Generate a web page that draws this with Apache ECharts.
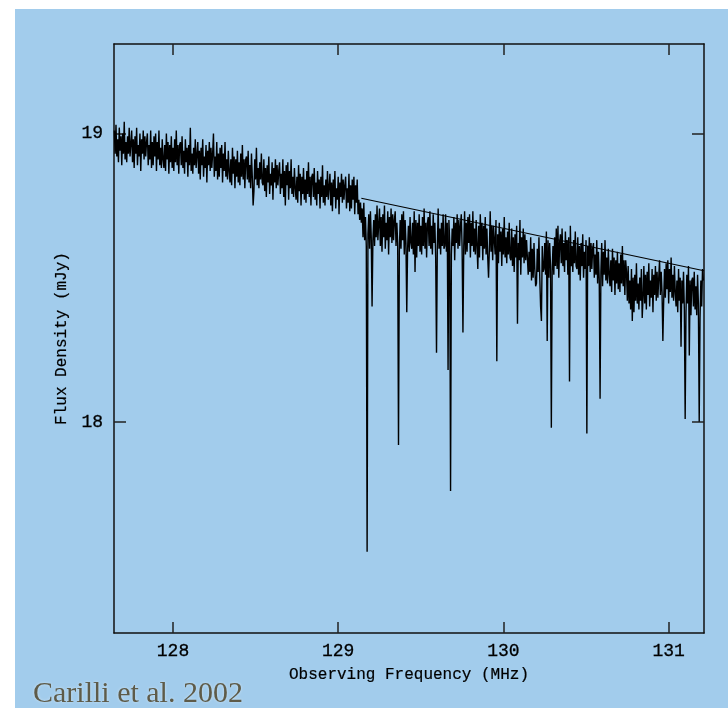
<!DOCTYPE html>
<html><head><meta charset="utf-8">
<script src="https://cdn.jsdelivr.net/npm/echarts@6/dist/echarts.min.js"></script>
<style>html,body{margin:0;padding:0;background:#fff;}#chart{width:728px;height:708px;}</style>
</head><body><div id="chart"></div>
<script>
// channel frequencies (MHz): evenly spaced spectral channels
const freqStart = 127.645;
const freqStep = 0.005;
// flux density per channel (mJy)
const flux = [
19.01,18.93,19.03,18.92,18.98,18.90,19.02,18.94,18.99,18.89,19.00,18.93,19.04,18.91,18.97,18.90,18.99,18.93,19.02,18.92,
18.92,19.01,18.90,18.98,18.88,18.99,18.93,19.02,18.89,18.96,18.92,19.00,18.87,18.98,18.93,19.01,18.91,18.99,18.92,18.97,
19.00,18.89,18.96,18.91,19.01,18.88,18.97,18.89,18.99,18.92,19.00,18.87,18.97,18.91,19.01,18.89,18.95,18.88,18.98,18.91,
18.88,18.96,18.87,19.00,18.91,18.97,18.86,18.96,18.90,18.99,18.88,18.95,18.87,18.98,18.90,19.01,18.89,18.96,18.86,18.96,
18.97,18.89,18.99,18.88,18.94,18.86,18.98,18.90,18.95,18.85,18.96,18.89,19.02,18.87,18.93,18.86,18.95,18.89,18.98,18.88,
18.88,18.97,18.86,18.94,18.84,18.95,18.89,18.98,18.85,18.92,18.88,18.96,18.83,18.94,18.89,18.97,18.87,18.95,18.88,18.93,
19.00,18.85,18.92,18.87,18.97,18.84,18.93,18.85,18.95,18.88,18.96,18.83,18.93,18.87,18.97,18.85,18.91,18.84,18.94,18.87,
18.83,18.91,18.82,18.95,18.86,18.92,18.81,18.91,18.85,18.94,18.83,18.90,18.82,18.93,18.85,18.96,18.84,18.91,18.81,18.91,
18.92,18.84,18.94,18.83,18.89,18.81,18.93,18.85,18.75,18.80,18.91,18.84,18.95,18.82,18.88,18.81,18.90,18.84,18.93,18.83,
18.82,18.91,18.80,18.88,18.78,18.89,18.83,18.92,18.79,18.86,18.82,18.90,18.77,18.88,18.83,18.91,18.81,18.89,18.82,18.87,
18.90,18.79,18.86,18.81,18.91,18.78,18.87,18.75,18.89,18.82,18.90,18.77,18.87,18.81,18.91,18.79,18.85,18.78,18.88,18.81,
18.77,18.85,18.76,18.89,18.80,18.86,18.75,18.85,18.79,18.88,18.77,18.84,18.76,18.87,18.79,18.90,18.78,18.85,18.75,18.85,
18.86,18.78,18.88,18.77,18.83,18.75,18.87,18.79,18.84,18.74,18.85,18.78,18.89,18.76,18.82,18.75,18.84,18.78,18.87,18.77,
18.77,18.86,18.75,18.83,18.73,18.84,18.78,18.87,18.74,18.81,18.77,18.85,18.72,18.83,18.78,18.86,18.76,18.84,18.77,18.82,
18.85,18.74,18.81,18.76,18.86,18.73,18.82,18.74,18.84,18.77,18.85,18.72,18.82,18.76,18.84,18.72,18.77,18.70,18.76,18.69,
18.74,18.64,18.76,18.63,18.71,18.61,17.55,18.65,18.72,18.60,18.73,18.64,18.40,18.63,18.70,18.61,18.72,18.64,18.75,18.63,
18.63,18.74,18.61,18.71,18.59,18.72,18.64,18.75,18.60,18.69,18.63,18.73,18.58,18.71,18.64,18.74,18.62,18.72,18.63,18.70,
18.73,18.61,18.69,18.62,17.92,18.59,18.70,18.60,18.72,18.63,18.73,18.58,18.70,18.62,18.38,18.60,18.68,18.59,18.71,18.62,
18.60,18.69,18.58,18.73,18.52,18.70,18.57,18.69,18.61,18.72,18.59,18.68,18.58,18.71,18.61,18.74,18.60,18.69,18.57,18.69,
18.71,18.61,18.73,18.60,18.68,18.58,18.72,18.62,18.69,18.57,18.24,18.61,18.74,18.60,18.67,18.58,18.69,18.61,18.72,18.60,
18.61,18.72,18.59,18.69,18.18,18.70,18.62,17.76,18.58,18.67,18.61,18.71,18.56,18.69,18.62,18.72,18.60,18.70,18.61,18.68,
18.72,18.60,18.31,18.61,18.73,18.58,18.69,18.59,18.71,18.62,18.72,18.57,18.69,18.61,18.73,18.59,18.67,18.58,18.70,18.61,
18.53,18.68,18.57,18.72,18.61,18.69,18.56,18.68,18.60,18.71,18.58,18.67,18.57,18.50,18.60,18.73,18.59,18.68,18.56,18.68,
18.68,18.58,18.70,18.21,18.65,18.55,18.69,18.59,18.66,18.54,18.67,18.58,18.71,18.57,18.64,18.55,18.66,18.58,18.69,18.57,
18.56,18.67,18.54,18.64,18.52,18.65,18.57,18.68,18.34,18.62,18.56,18.70,18.51,18.64,18.57,18.67,18.55,18.65,18.56,18.63,
18.63,18.51,18.59,18.52,18.64,18.49,18.60,18.50,18.62,18.53,18.47,18.48,18.60,18.52,18.64,18.50,18.40,18.35,18.61,18.52,
18.53,18.62,18.51,18.66,18.28,18.63,18.50,18.62,18.54,17.98,18.52,18.61,18.51,18.64,18.54,18.67,18.53,18.68,18.50,18.62,
18.65,18.55,18.67,18.54,18.62,18.52,18.66,18.56,18.63,18.51,18.64,18.14,18.68,18.54,18.61,18.52,18.63,18.55,18.66,18.54,
18.53,18.64,18.51,18.61,18.49,18.62,18.54,18.65,18.50,18.59,18.53,18.63,17.96,18.61,18.54,18.64,18.52,18.62,18.53,18.60,
18.62,18.50,18.58,18.51,18.63,18.48,18.59,18.49,18.08,18.52,18.62,18.47,18.59,18.51,18.63,18.49,18.57,18.48,18.60,18.51,
18.47,18.56,18.45,18.60,18.49,18.57,18.44,18.56,18.48,18.59,18.46,18.55,18.45,18.58,18.48,18.61,18.47,18.56,18.44,18.56,
18.52,18.42,18.54,18.41,18.49,18.39,18.53,18.35,18.50,18.38,18.51,18.42,18.55,18.41,18.48,18.39,18.50,18.42,18.53,18.36,
18.43,18.54,18.41,18.51,18.39,18.52,18.44,18.55,18.40,18.49,18.43,18.53,18.38,18.51,18.44,18.54,18.42,18.52,18.43,18.50,
18.56,18.44,18.52,18.45,18.28,18.42,18.53,18.43,18.55,18.46,18.56,18.41,18.53,18.45,18.57,18.43,18.51,18.42,18.54,18.45,
18.40,18.49,18.38,18.53,18.42,18.50,18.26,18.49,18.41,18.52,18.39,18.01,18.38,18.51,18.41,18.54,18.23,18.49,18.37,18.49,
18.50,18.40,18.52,18.39,18.47,18.37,18.51,18.41,18.00,18.36,18.49,18.40,18.53,18.49
];
// continuum fit line
const fitFreq = [129.14, 131.214];
const fitFlux = [18.775, 18.524];
// axes
const xTicks = [128, 129, 130, 131];
const yTicks = [18, 19];
const xMin = 127.643, xMax = 131.214;
const yMin = 17.268, yMax = 19.31;

const specData = flux.map((v, i) => [freqStart + i * freqStep, v]);
const fitData = fitFreq.map((f, i) => [f, fitFlux[i]]);

const mono = 'Liberation Mono';
const axisLineStyle = {color: '#111', width: 1.5};
const tickStyle = {color: '#222', width: 1.5};
const labelStyle = {fontFamily: mono, fontSize: 18, color: '#000', textBorderColor: '#000', textBorderWidth: 0.3};

function xAxisDef(pos, labels) {
  return {
    type: 'value', position: pos, min: xMin, max: xMax,
    axisLine: {show: true, onZero: false, lineStyle: axisLineStyle},
    axisTick: {show: true, inside: true, length: 11, lineStyle: tickStyle, customValues: xTicks},
    axisLabel: Object.assign({show: labels, customValues: xTicks, margin: 9}, labelStyle),
    splitLine: {show: false},
    name: labels ? 'Observing Frequency (MHz)' : '',
    nameLocation: 'middle', nameGap: 34,
    nameTextStyle: {fontFamily: mono, fontSize: 16, color: '#000', textBorderColor: '#000', textBorderWidth: 0.2}
  };
}
function yAxisDef(pos, labels) {
  return {
    type: 'value', position: pos, min: yMin, max: yMax,
    axisLine: {show: true, onZero: false, lineStyle: axisLineStyle},
    axisTick: {show: true, inside: true, length: 12, lineStyle: tickStyle, customValues: yTicks},
    axisLabel: Object.assign({show: labels, customValues: yTicks, margin: 11}, labelStyle),
    splitLine: {show: false},
    name: labels ? 'Flux Density (mJy)' : '',
    nameLocation: 'middle', nameGap: 41, nameRotate: 90,
    nameTextStyle: {fontFamily: mono, fontSize: 16, color: '#000', textBorderColor: '#000', textBorderWidth: 0.2}
  };
}

const chart = echarts.init(document.getElementById('chart'), null, {renderer: 'canvas'});
chart.setOption({
  animation: false,
  backgroundColor: '#ffffff',
  graphic: [
    {type: 'rect', z: -10, silent: true, shape: {x: 15, y: 9, width: 713, height: 699}, style: {fill: '#a2ccec'}},
    {type: 'text', z: 10, left: 33, top: 679, silent: true,
     style: {text: 'Carilli et al. 2002', fontFamily: 'Liberation Serif', fontSize: 30, fill: '#5e5b49',
             textShadowColor: 'rgba(255,255,255,0.5)', textShadowBlur: 3}}
  ],
  grid: {left: 114, top: 44, right: 24, bottom: 75, containLabel: false},
  xAxis: [xAxisDef('bottom', true), xAxisDef('top', false)],
  yAxis: [yAxisDef('left', true), yAxisDef('right', false)],
  series: [
    {type: 'line', xAxisIndex: 0, yAxisIndex: 0, data: specData, showSymbol: false, symbol: 'none',
     lineStyle: {color: '#000', width: 1.4}, clip: true, sampling: null},
    {type: 'line', xAxisIndex: 0, yAxisIndex: 0, data: fitData, showSymbol: false, symbol: 'none',
     lineStyle: {color: '#000', width: 1.1}, clip: true}
  ]
});
</script>
</body></html>
